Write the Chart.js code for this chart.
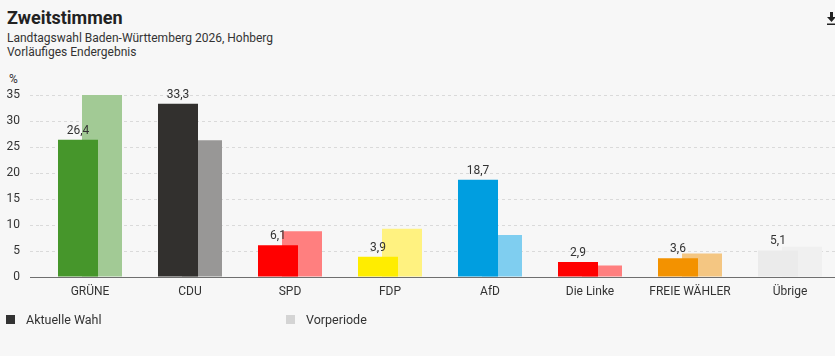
<!DOCTYPE html>
<html>
<head>
<meta charset="utf-8">
<script src="https://cdn.jsdelivr.net/npm/chart.js@4/dist/chart.umd.min.js"></script>
<style>
  html, body { margin:0; padding:0; overflow:hidden; background:#f7f7f7; width:835px; height:356px; }
  body { font-family: Roboto, "Noto Sans", sans-serif; color:#333; position:relative; }
  #title { position:absolute; left:7px; top:7px; font-size:18px; font-weight:bold; color:#222; }
  .sub { position:absolute; left:7px; font-size:12px; color:#333; }
  #pct { position:absolute; left:9px; top:72px; font-size:12px; color:#333; }
  #wrap { position:absolute; left:0; top:70px; width:840px; height:250px; }
  .leg { position:absolute; top:312px; font-size:12.5px; color:#333; }
  .sw { position:absolute; width:9px; height:9px; top:315px; }
  #dl { position:absolute; left:827px; top:12px; width:9px; height:13px; }
</style>
</head>
<body>
<div id="title">Zweitstimmen</div>
<div class="sub" style="top:31px">Landtagswahl Baden-Württemberg 2026, Hohberg</div>
<div class="sub" style="top:45px">Vorläufiges Endergebnis</div>
<div id="pct">%</div>
<div id="wrap"><canvas id="c" width="840" height="250"></canvas></div>
<div class="sw" style="left:6px;background:#333;"></div>
<div class="leg" style="left:26px">Aktuelle Wahl</div>
<div class="sw" style="left:286px;background:#d4d4d4;"></div>
<div class="leg" style="left:306px">Vorperiode</div>
<svg id="dl" viewBox="0 0 9 13"><rect x="3" y="0" width="3" height="5" fill="#222"/><polygon points="0,5 9,5 4.5,10" fill="#222"/><rect x="0" y="11.5" width="9" height="1.5" fill="#222"/></svg>
<script>
const parties = ["GRÜNE", "CDU", "SPD", "FDP", "AfD", "Die Linke", "FREIE WÄHLER", "Übrige"];
const current = [26.4, 33.3, 6.1, 3.9, 18.7, 2.9, 3.6, 5.1];
const previous = [35.0, 26.3, 8.8, 9.3, 8.1, 2.2, 4.5, 5.8];
const currentColors = ["#46962b", "#32302e", "#ff0000", "#ffed00", "#009ee0", "#ff0000", "#f39200", "#ebebeb"];
const previousColors = ["#a2ca95", "#989796", "#ff7f7f", "#fff280", "#7fcef0", "#ff7f7f", "#f4c682", "#f0f0f0"];
const yTicks = [0, 5, 10, 15, 20, 25, 30, 35];

const fmt = v => v.toFixed(1).replace('.', ',');

const labelPlugin = {
  id: 'valLabels',
  afterDatasetsDraw(chart) {
    const ctx = chart.ctx;
    const meta = chart.getDatasetMeta(0);
    ctx.save();
    ctx.font = '12px Roboto, "Noto Sans", sans-serif';
    ctx.fillStyle = '#333';
    ctx.textAlign = 'center';
    ctx.textBaseline = 'bottom';
    meta.data.forEach((bar, i) => {
      ctx.fillText(fmt(current[i]), bar.x, bar.y - 3);
    });
    ctx.restore();
  }
};

new Chart(document.getElementById('c'), {
  type: 'bar',
  data: {
    labels: parties,
    datasets: [
      { label: 'Aktuelle Wahl', data: current, backgroundColor: currentColors,
        categoryPercentage: 0.48, barPercentage: 1.6667 },
      { label: 'Vorperiode', data: previous, backgroundColor: previousColors,
        categoryPercentage: 0.48, barPercentage: 1.6667 }
    ]
  },
  options: {
    responsive: false,
    animation: false,
    layout: { padding: { top: 25, right: 0, bottom: 0, left: 0 } },
    plugins: { legend: { display: false }, tooltip: { enabled: false } },
    scales: {
      x: {
        afterFit(s) { s.height = 43; },
        grid: { display: false, drawTicks: false },
        border: { display: true, color: '#6f6f6f', width: 1 },
        ticks: { padding: 8, color: '#333', font: { size: 12, family: 'Roboto, "Noto Sans", sans-serif' }, maxRotation: 0, autoSkip: false }
      },
      y: {
        min: 0, max: 35,
        afterFit(s) { s.width = 40; },
        afterBuildTicks(s) { s.ticks = yTicks.map(v => ({ value: v })); },
        border: { display: false, dash: ctx => (ctx.tick && ctx.tick.value === 0) ? [] : [3, 3] },
        grid: {
          color: ctx => (ctx.tick && ctx.tick.value === 0) ? '#6f6f6f' : '#dadada',
          tickColor: ctx => (ctx.tick && ctx.tick.value === 0) ? '#6f6f6f' : '#dadada',
          tickBorderDash: ctx => (ctx.tick && ctx.tick.value === 0) ? [] : [3, 3],
          tickLength: 10,
          drawTicks: true
        },
        ticks: { padding: 10, color: '#333', font: { size: 12, family: 'Roboto, "Noto Sans", sans-serif' } }
      }
    }
  },
  plugins: [labelPlugin]
});
</script>
</body>
</html>
